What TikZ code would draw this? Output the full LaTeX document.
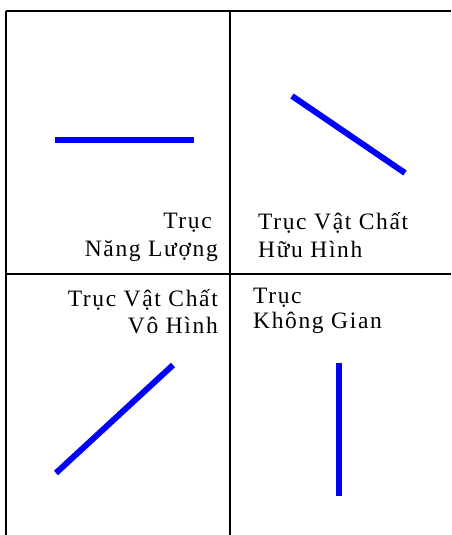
\documentclass[tikz,border=0pt]{standalone}
\usepackage{fontspec}
\setmainfont{Liberation Serif}[LetterSpace=7]
\tikzset{
  grid/.style={line width=2.8pt, black},
  axis/.style={line width=6pt, blue},
  lbl/.style={inner sep=0pt, font=\fontsize{23.5}{28}\selectfont}
}
\begin{document}
\begin{tikzpicture}[x=1pt,y=-1pt]
\useasboundingbox (0,0) rectangle (451,535);
% grid
\coordinate (tl) at (6,11);
\coordinate (tr) at (451,11);
\coordinate (tm) at (230,11);
\coordinate (bl) at (6,535);
\coordinate (bm) at (230,535);
\coordinate (ml) at (6,274);
\coordinate (mr) at (451,274);
\draw[grid] (tl) -- (tr);
\draw[grid] (tl) -- (bl);
\draw[grid] (tm) -- (bm);
\draw[grid] (ml) -- (mr);
% blue axes
\coordinate (a1) at (55,140); \coordinate (a2) at (194,140);
\coordinate (b1) at (292,96); \coordinate (b2) at (405,173);
\coordinate (c1) at (173,365); \coordinate (c2) at (56,473);
\coordinate (d1) at (339,363); \coordinate (d2) at (339,496);
\draw[axis] (a1) -- (a2);
\draw[axis] (b1) -- (b2);
\draw[axis] (c1) -- (c2);
\draw[axis] (d1) -- (d2);
% labels
\node[lbl, anchor=base east] (t1a) at (212,228) {Trục};
\node[lbl, anchor=base east] (t1b) at (218,256) {Năng Lượng};
\node[lbl, anchor=base west] (t2a) at (258,229) {Trục Vật Chất};
\node[lbl, anchor=base west] (t2b) at (258,257) {Hữu Hình};
\node[lbl, anchor=base east] (t3a) at (218,306) {Trục Vật Chất};
\node[lbl, anchor=base east] (t3b) at (218,333) {Vô Hình};
\node[lbl, anchor=base west] (t4a) at (253,303) {Trục};
\node[lbl, anchor=base west] (t4b) at (253,328) {Không Gian};
\end{tikzpicture}
\end{document}
